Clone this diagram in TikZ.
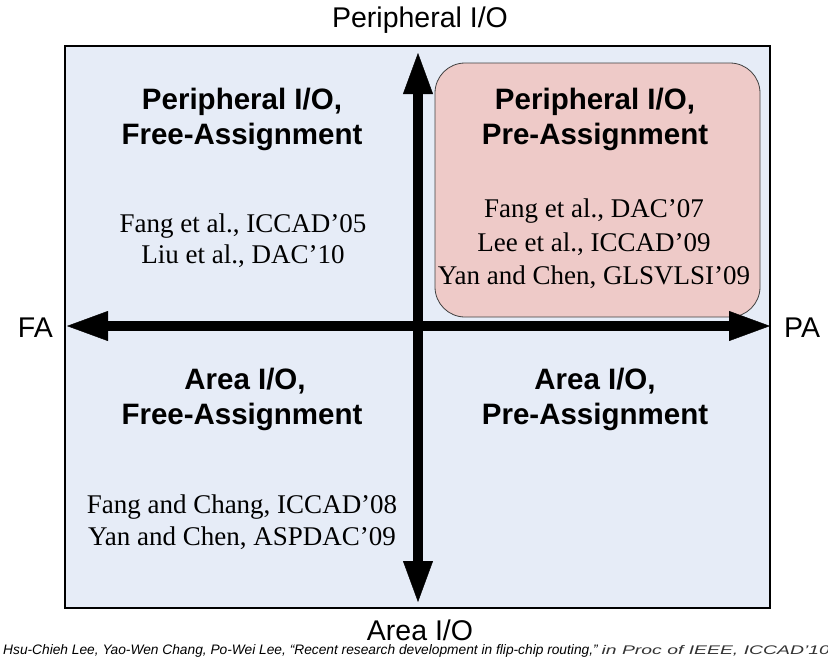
\documentclass[tikz,border=0pt]{standalone}
\usepackage{fontspec}
\setmainfont{Liberation Serif}
\setsansfont{Liberation Sans}
\usetikzlibrary{arrows.meta}

\definecolor{panelbg}{HTML}{E6ECF7}
\definecolor{panelpink}{HTML}{EECAC8}

\begin{document}
\begin{tikzpicture}[x=1pt,y=-1pt,inner sep=0pt,
  heading/.style={font=\sffamily\bfseries\fontsize{29.5}{35}\selectfont, anchor=base},
  paper/.style={font=\rmfamily\fontsize{27}{33}\selectfont, anchor=base},
  axislabel/.style={font=\sffamily\fontsize{28.5}{32}\selectfont, anchor=base},
  axisarrow/.style={line width=10.5pt,
    {Triangle[length=41pt,width=30pt,line width=0.4pt]}-{Triangle[length=41pt,width=30pt,line width=0.4pt]}}]

\useasboundingbox (0,0) rectangle (828,657);
\fill[white] (0,0) rectangle (828,657);

% quadrant panel and highlighted quadrant
\draw[line width=1.2pt, fill=panelbg] (65,46) rectangle (770,608);
\draw[line width=0.8pt, draw=black!75, fill=panelpink, rounded corners=30pt] (435,63) rectangle (760,317);

% axes
\coordinate (fa) at (67,326);
\coordinate (pa) at (770,326);
\coordinate (up) at (418,53);
\coordinate (down) at (418,602);
\draw[axisarrow] (fa) -- (pa);
\draw[axisarrow] (down) -- (up);

% axis labels
\node[axislabel] (lTop) at (420,27) {Peripheral I/O};
\node[axislabel] (lBot) at (420,640) {Area I/O};
\node[axislabel, anchor=base east] (lFA) at (53,337) {FA};
\node[axislabel, anchor=base west] (lPA) at (784,337) {PA};

% peripheral I/O, free-assignment
\node[heading] (h1a) at (242,109) {Peripheral I/O,};
\node[heading] (h1b) at (242,144.5) {Free-Assignment};
\node[paper] (p1a) at (243,232) {Fang et al., ICCAD’05};
\node[paper] (p1b) at (243,263) {Liu et al., DAC’10};

% peripheral I/O, pre-assignment
\node[heading] (h2a) at (595,109) {Peripheral I/O,};
\node[heading] (h2b) at (595,144.5) {Pre-Assignment};
\node[paper] (p2a) at (594,217) {Fang et al., DAC’07};
\node[paper] (p2b) at (594,251) {Lee et al., ICCAD’09};
\node[paper] (p2c) at (594,284) {Yan and Chen, GLSVLSI’09};

% area I/O, free-assignment
\node[heading] (h3a) at (245,389) {Area I/O,};
\node[heading] (h3b) at (242,424) {Free-Assignment};
\node[paper] (p3a) at (242,513) {Fang and Chang, ICCAD’08};
\node[paper] (p3b) at (242,545) {Yan and Chen, ASPDAC’09};

% area I/O, pre-assignment
\node[heading] (h4a) at (595,389) {Area I/O,};
\node[heading] (h4b) at (595,424) {Pre-Assignment};

% source
\node[anchor=base west, font=\sffamily\itshape\fontsize{13.75}{16}\selectfont] (src) at (3,654)
  {Hsu-Chieh Lee, Yao-Wen Chang, Po-Wei Lee, “Recent research development in flip-chip routing,”
   \scalebox{1.55}[1]{\fontsize{12.5}{13}\selectfont\color{black!80}in Proc of IEEE, ICCAD’10}};
\end{tikzpicture}
\end{document}
